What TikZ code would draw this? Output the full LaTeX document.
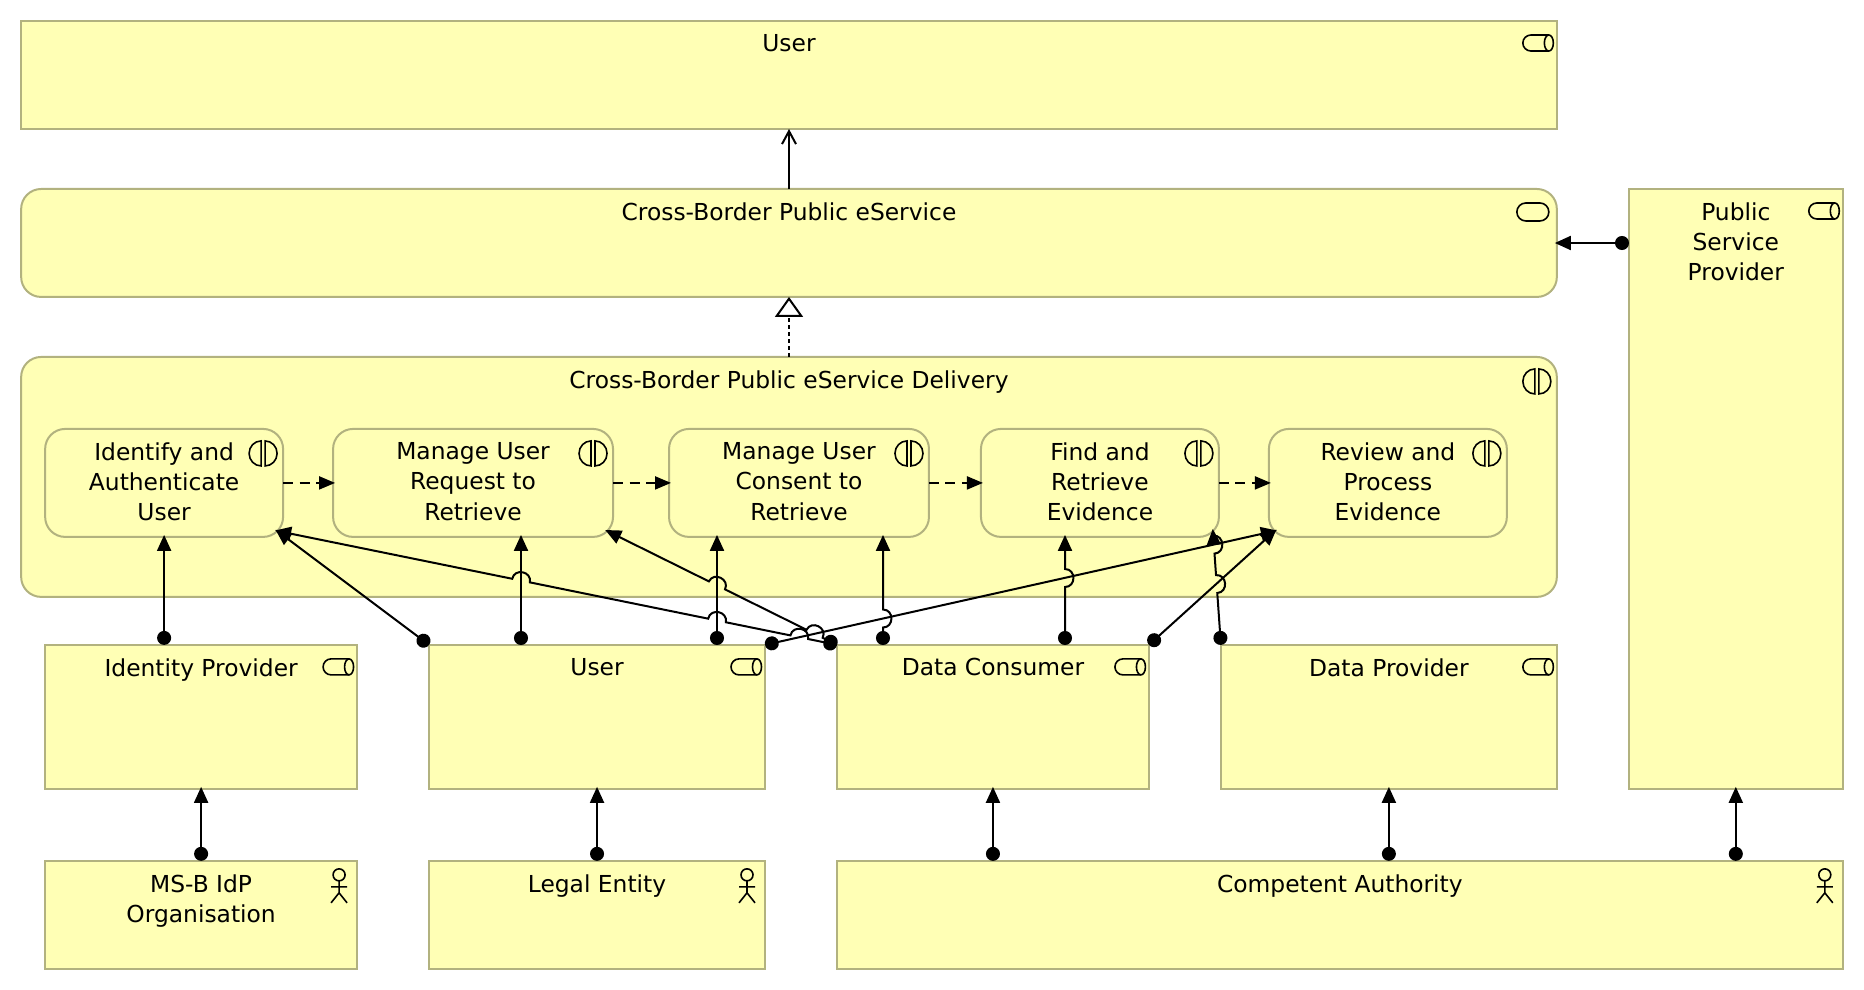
\documentclass[tikz,border=0pt]{standalone}
\usepackage{fontspec}
\setmainfont{DejaVu Sans}
\usepackage{tikz}
\usetikzlibrary{positioning,arrows.meta,calc}
\definecolor{boxfill}{HTML}{FFFFB5}
\definecolor{boxline}{HTML}{B2B27F}
% line hop at #3 cm from #1 on the way to #2
\newcommand{\hop}[3]{-- ($(#1)!#3cm-0.18cm!(#2)$) to[bend right=90, looseness=1.6] ($(#1)!#3cm+0.18cm!(#2)$)}
\begin{document}
\begin{tikzpicture}[x=0.02cm, y=0.02cm,
  box/.style={draw=boxline, fill=boxfill, line width=0.04cm, inner sep=0pt, outer sep=0pt},
  role/.style={box},
  func/.style={box, rounded corners=0.4cm},
  boxtext/.style={anchor=north, yshift=-0.265cm, inner sep=0pt, align=center, font=\fontsize{13.3}{17.25}\selectfont},
  conn/.style={line width=0.04cm, black},
  assign/.style={conn, shorten >=-0.04cm, {Circle[length=0.28cm]}-{Triangle[length=0.32cm, width=0.28cm]}},
  trigger/.style={conn, shorten >=-0.04cm, dash pattern=on 0.2cm off 0.13cm, -{Triangle[length=0.32cm, width=0.26cm]}},
  serve/.style={conn, -{Straight Barb[length=0.26cm, width=0.28cm]}},
  realize/.style={conn, dash pattern=on 0.07cm off 0.07cm, -{Triangle[open, length=0.4cm, width=0.56cm, fill=white]}},
  icon/.style={line width=0.032cm, black},
  roleicon/.pic={
    \draw[icon] (-8,-14) -- (-26,-14) arc[start angle=90, end angle=270, radius=8] -- (-8,-30);
    \draw[icon] (-8,-22) ellipse[x radius=4.5, y radius=8];
  },
  serviceicon/.pic={
    \draw[icon, rounded corners=0.18cm] (-40,-14) rectangle (-8,-32);
  },
  funcicon/.pic={
    \draw[icon] (-22,-12) arc[start angle=90, end angle=270, x radius=12, y radius=12.5] -- cycle;
    \draw[icon] (-18,-12) arc[start angle=90, end angle=-90, x radius=12, y radius=12.5] -- cycle;
  },
  actoricon/.pic={
    \draw[icon] (-18,-14) circle[radius=6];
    \draw[icon] (-18,-20) -- (-18,-32) (-26,-26) -- (-10,-26) (-26,-42) -- (-18,-32) -- (-10,-42);
  },
]
\useasboundingbox (0,0) rectangle (1864,-990);
% top layers
\node[role, minimum width=30.72cm, minimum height=2.16cm, label={[boxtext]north:User}] (topuser) at (789,-75) {};
\node[func, minimum width=30.72cm, minimum height=2.16cm, below=1.2cm of topuser, label={[boxtext]north:Cross-Border Public eService}] (eservice) {};
\node[func, minimum width=30.72cm, minimum height=4.8cm, below=1.2cm of eservice, label={[boxtext]north:Cross-Border Public eService Delivery}] (delivery) {};
% steps inside the delivery
\node[func, minimum width=4.76cm, minimum height=2.16cm, below right=1.44cm and 0.48cm of delivery.north west, label={[boxtext]north:Identify and\\Authenticate\\User}] (identify) {};
\node[func, minimum width=5.6cm, minimum height=2.16cm, right=1cm of identify, label={[boxtext]north:Manage User\\Request to\\Retrieve}] (request) {};
\node[func, minimum width=5.2cm, minimum height=2.16cm, right=1.12cm of request, label={[boxtext]north:Manage User\\Consent to\\Retrieve}] (consent) {};
\node[func, minimum width=4.76cm, minimum height=2.16cm, right=1.04cm of consent, label={[boxtext]north:Find and\\Retrieve\\Evidence}] (find) {};
\node[func, minimum width=4.76cm, minimum height=2.16cm, right=1cm of find, label={[boxtext]north:Review and\\Process\\Evidence}] (review) {};
% roles
\node[role, minimum width=6.24cm, minimum height=2.88cm, below right=0.96cm and 0.48cm of delivery.south west, label={[boxtext]north:Identity Provider}] (idp) {};
\node[role, minimum width=6.72cm, minimum height=2.88cm, below right=0cm and 1.44cm of idp.north east, label={[boxtext]north:User}] (user) {};
\node[role, minimum width=6.24cm, minimum height=2.88cm, below right=0cm and 1.44cm of user.north east, label={[boxtext]north:Data Consumer}] (consumer) {};
\node[role, minimum width=6.72cm, minimum height=2.88cm, below right=0cm and 1.44cm of consumer.north east, label={[boxtext]north:Data Provider}] (dataprov) {};
\node[role, minimum width=4.28cm, minimum height=12cm, above right=0cm and 1.44cm of dataprov.south east, label={[boxtext]north:Public\\Service\\Provider}] (psp) {};
% actors
\node[role, minimum width=6.24cm, minimum height=2.16cm, below right=1.44cm and 0cm of idp.south west, label={[boxtext]north:MS-B IdP\\Organisation}] (msb) {};
\node[role, minimum width=6.72cm, minimum height=2.16cm, below right=1.44cm and 0cm of user.south west, label={[boxtext]north:Legal Entity}] (legal) {};
\node[role, minimum width=20.12cm, minimum height=2.16cm, below right=1.44cm and 0cm of consumer.south west, label={[boxtext]north:Competent Authority}] (authority) {};
% icons
\foreach \n in {topuser,idp,user,consumer,dataprov,psp} \pic at (\n.north east) {roleicon};
\pic at (eservice.north east) {serviceicon};
\foreach \n in {delivery,identify,request,consent,find,review} \pic at (\n.north east) {funcicon};
\foreach \n in {msb,legal,authority} \pic at (\n.north east) {actoricon};
% rounded corners the slanted lines end on
\coordinate (identifyc) at ($(identify.south east)+(-6,6)$);
\coordinate (requestc) at ($(request.south east)+(-6,6)$);
\coordinate (findc) at ($(find.south east)+(-6,6)$);
\coordinate (reviewc) at ($(review.south west)+(6,6)$);
% free ends of the lines that do not run on a centre
\coordinate (pspport) at (1629,-243);
\coordinate (userto1) at (521,-645);
\coordinate (userto2) at (717,-645);
\coordinate (dcto1) at (883,-645);
\coordinate (dcto2) at (1065,-645);
% connectors
\draw[serve] (eservice) -- (topuser);
\draw[realize] (delivery) -- (eservice);
\draw[assign] (pspport) -- (eservice.east |- pspport);
\draw[trigger] (identify) -- (request);
\draw[trigger] (request) -- (consent);
\draw[trigger] (consent) -- (find);
\draw[trigger] (find) -- (review);
\draw[assign] (msb) -- (idp);
\draw[assign] (legal) -- (user);
\draw[assign] (consumer |- authority.north) -- (consumer);
\draw[assign] (dataprov |- authority.north) -- (dataprov);
\draw[assign] (psp |- authority.north) -- (psp);
\draw[assign] (identify |- idp.north) -- (identify);
\draw[assign] (user.north west) -- (identifyc);
\draw[assign] (userto1) -- (userto1 |- request.south);
\draw[assign] (userto2) -- (userto2 |- consent.south);
\draw[assign] (user.north east) -- (reviewc);
\coordinate (dcend1) at (dcto1 |- consent.south);
\coordinate (dcend2) at (dcto2 |- find.south);
\draw[assign] (consumer.north west) \hop{consumer.north west}{identifyc}{0.77} \hop{consumer.north west}{identifyc}{2.45} \hop{consumer.north west}{identifyc}{6.45} -- (identifyc);
\draw[assign] (consumer.north west) \hop{consumer.north west}{requestc}{0.5} \hop{consumer.north west}{requestc}{2.68} -- (requestc);
\draw[assign] (dcto1) \hop{dcto1}{dcend1}{0.53} -- (dcend1);
\draw[assign] (dcto2) \hop{dcto2}{dcend2}{1.34} -- (dcend2);
\draw[assign] (consumer.north east) -- (reviewc);
\draw[assign] (dataprov.north west) \hop{dataprov.north west}{findc}{1.22} \hop{dataprov.north west}{findc}{2.01} -- (findc);
\end{tikzpicture}
\end{document}
